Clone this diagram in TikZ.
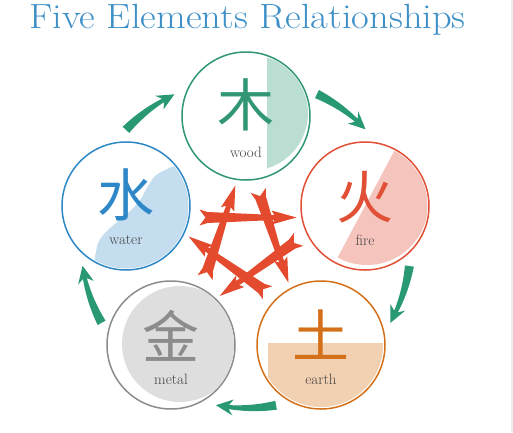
\documentclass[tikz,border=0pt]{standalone}
\usepackage{fontspec}
\newfontfamily\cjkfont{Noto Sans CJK SC}
\usetikzlibrary{calc}
\definecolor{TitleClr}{rgb}{0.24,0.56,0.78}
\definecolor{WoodClr}{rgb}{0.19,0.59,0.45}
\definecolor{WoodFill}{rgb}{0.73,0.87,0.82}
\definecolor{FireClr}{rgb}{0.88,0.31,0.21}
\definecolor{FireFill}{rgb}{0.96,0.77,0.74}
\definecolor{WaterClr}{rgb}{0.18,0.53,0.78}
\definecolor{WaterFill}{rgb}{0.77,0.87,0.94}
\definecolor{MetalClr}{rgb}{0.55,0.55,0.55}
\definecolor{MetalFill}{rgb}{0.87,0.87,0.87}
\definecolor{EarthClr}{rgb}{0.83,0.44,0.10}
\definecolor{EarthFill}{rgb}{0.95,0.82,0.70}
\definecolor{CycleClr}{rgb}{0.16,0.60,0.45}
\definecolor{StarClr}{rgb}{0.89,0.29,0.18}
\definecolor{NameClr}{rgb}{0.26,0.26,0.26}

% green arc round the outside, from #1 to #2 (clockwise)
\newcommand{\GenArrow}[2]{%
  \pgfmathanglebetweenpoints{\pgfpointorigin}{\pgfpointlineattime{0.5}{\pgfpointanchor{#1}{center}}{\pgfpointanchor{#2}{center}}}%
  \let\ArcAngle\pgfmathresult
  \fill[CycleClr,rotate=\ArcAngle]
    plot[domain=0:1,samples=15,variable=\t] ({10.5-16.5*\t}:{169.5-2.5*\t})
    -- (-4.5:173) -- (-10.5:165) -- (-4.5:157)
    -- plot[domain=0:1,samples=15,variable=\t] ({-6+16.5*\t}:{163-2.5*\t})
    -- cycle;}

% red arrow of the star, from #1 to #2
\newcommand{\CtrlArrow}[2]{%
  \pgfmathanglebetweenpoints{\pgfpointanchor{#1}{center}}{\pgfpointanchor{#2}{center}}%
  \let\ArrAngle\pgfmathresult
  \fill[StarClr,shift={($(#1)!.5!(#2)$)},rotate=\ArrAngle]
    (-46,-3.5) -- (-40,-11.5) -- (-46,-19.5) -- (-38,-17) -- (29,-14)
    -- (26,-18.5) -- (51,-11.5) -- (26,-4.5) -- (29,-9) -- (-38,-6) -- cycle;}

\begin{document}
\begin{tikzpicture}[x=1pt,y=1pt,
  element/.style={circle,draw,line width=1.5pt,minimum size=128pt,inner sep=0pt},
  glyph/.style={font=\cjkfont\fontsize{57}{57}\selectfont,inner sep=0pt},
  elname/.style={font=\fontsize{15}{17}\selectfont,text=NameClr,inner sep=0pt}]
\useasboundingbox (-246,-189) rectangle (267,243);
\fill[gray!15] (265,-189) rectangle (267,243);

\node[anchor=base west,inner sep=0pt,text=TitleClr,xscale=1.1,font=\fontsize{35}{38}\selectfont]
  (title) at (-217,214.5) {Five Elements Relationships};

% the five circles
\node[element,draw=WoodClr]  (wood)  at (0,127)    {};
\node[element,draw=FireClr]  (fire)  at (119,37)   {};
\node[element,draw=EarthClr] (earth) at (75,-102)  {};
\node[element,draw=MetalClr] (metal) at (-75,-102) {};
\node[element,draw=WaterClr] (water) at (-120,37)  {};

% tints inside the circles
\begin{scope}[shift={(wood)}]
  \clip (0,0) circle (62.5);
  \clip (4,3) circle (58);
  \fill[WoodFill] (21,-70) rectangle (70,70);
\end{scope}
\begin{scope}[shift={(fire)}]
  \clip (0,0) circle (62.5);
  \clip (2,2) circle (61);
  \fill[FireFill] (62:90) -- (242:90) -- (-28:130) -- cycle;
\end{scope}
\begin{scope}[shift={(earth)}]
  \clip (0,0) circle (62);
  \fill[EarthFill] (-53,2) rectangle (70,-70);
\end{scope}
\begin{scope}[shift={(metal)}]
  \clip (0,0) circle (63);
  \fill[MetalFill] (9,1) circle (58);
\end{scope}
\begin{scope}[shift={(water)}]
  \clip (0,0) circle (62.5);
  \fill[WaterFill] plot[smooth] coordinates {(-33,-64) (-28,-37) (-18,-24) (-4,-12)
    (12,3) (22,20) (29,30) (39,36) (49,40) (64,41)} -- (64,-64) -- cycle;
\end{scope}

% glyphs and names
\node[glyph,text=WoodClr]  (woodsym)  at ([yshift=11]wood.center)  {木};
\node[glyph,text=FireClr]  (firesym)  at ([yshift=9]fire.center)   {火};
\node[glyph,text=EarthClr] (earthsym) at ([yshift=10]earth.center) {土};
\node[glyph,text=MetalClr] (metalsym) at ([yshift=9]metal.center)  {金};
\node[glyph,text=WaterClr] (watersym) at ([yshift=11]water.center) {水};
\node[elname] (woodname)  at ([yshift=-36]wood.center)  {wood};
\node[elname] (firename)  at ([yshift=-34]fire.center)  {fire};
\node[elname] (earthname) at ([yshift=-34]earth.center) {earth};
\node[elname] (metalname) at ([yshift=-34]metal.center) {metal};
\node[elname] (watername) at ([yshift=-34]water.center) {water};

% generating cycle
\GenArrow{water}{wood}
\GenArrow{wood}{fire}
\GenArrow{fire}{earth}
\GenArrow{earth}{metal}
\GenArrow{metal}{water}

% controlling star
\CtrlArrow{wood}{earth}
\CtrlArrow{earth}{water}
\CtrlArrow{water}{fire}
\CtrlArrow{fire}{metal}
\CtrlArrow{metal}{wood}
\end{tikzpicture}
\end{document}
